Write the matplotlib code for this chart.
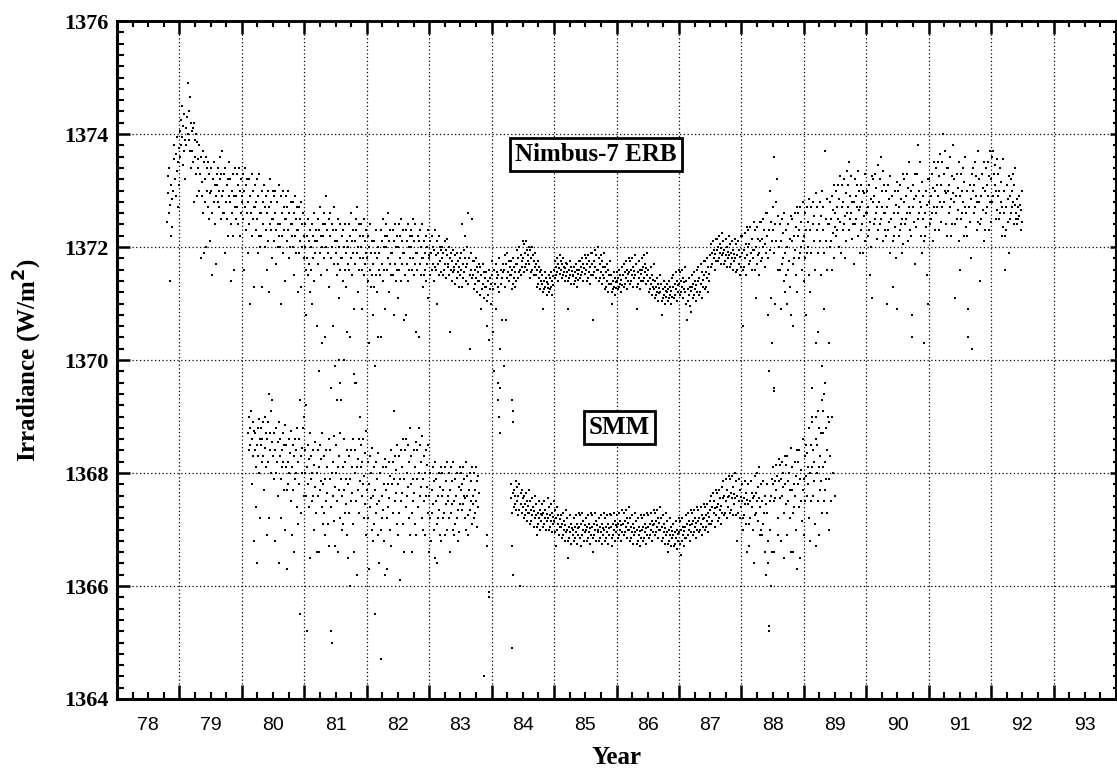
import numpy as np
import matplotlib
matplotlib.use("Agg")
import matplotlib.pyplot as plt

# ---------------- data ----------------
# Each row: (centre of a 0.1-year bin, daily irradiance readings in W/m^2 within that bin)
nimbus_bins = [
    (78.85, [1372.45, 1372.95, 1373.25, 1372.6, 1373.4, 1372.75, 1371.4, 1372.2, 1373.1, 1372.85, 1372.35, 1373.0]),
    (78.95, [1373.0, 1373.55, 1373.8, 1373.2, 1372.9, 1373.65, 1373.95, 1373.35, 1372.7, 1373.5, 1373.1, 1373.75]),
    (79.05, [1373.6, 1374.05, 1374.25, 1373.8, 1374.5, 1373.95, 1373.45, 1374.15, 1373.7, 1374.35, 1373.9, 1373.2]),
    (79.15, [1374.1, 1373.8, 1374.3, 1374.9, 1374.0, 1374.4, 1373.9, 1374.65, 1373.7, 1374.2, 1373.4, 1374.05]),
    (79.25, [1373.7, 1374.1, 1373.5, 1374.2, 1372.8, 1373.9, 1373.6, 1374.0, 1373.3, 1373.85, 1372.9, 1373.55]),
    (79.35, [1373.4, 1373.0, 1373.8, 1373.3, 1371.8, 1373.6, 1372.9, 1373.15, 1373.7, 1372.6, 1373.5, 1371.9]),
    (79.45, [1373.2, 1372.8, 1373.6, 1372.0, 1373.4, 1373.0, 1372.7, 1373.5, 1372.5, 1373.3, 1372.1, 1372.95]),
    (79.55, [1373.0, 1373.4, 1372.6, 1371.5, 1373.2, 1372.8, 1373.5, 1372.4, 1373.1, 1371.7, 1372.9, 1373.3]),
    (79.65, [1373.1, 1372.8, 1373.4, 1373.0, 1372.7, 1373.6, 1373.2, 1372.5, 1373.3, 1372.9, 1373.7, 1372.6]),
    (79.75, [1373.0, 1373.3, 1372.6, 1371.9, 1373.4, 1372.8, 1373.1, 1372.5, 1373.2, 1372.2, 1372.9, 1373.5]),
    (79.85, [1372.8, 1373.2, 1372.4, 1371.4, 1373.0, 1372.6, 1373.3, 1372.2, 1372.9, 1371.6, 1372.7, 1373.4]),
    (79.95, [1372.9, 1372.5, 1373.3, 1372.7, 1373.1, 1372.4, 1373.4, 1372.2, 1373.0, 1372.6, 1373.2, 1372.8]),
    (80.05, [1372.9, 1373.3, 1372.5, 1371.6, 1373.0, 1372.7, 1373.4, 1372.3, 1373.1, 1372.6, 1373.2, 1371.9]),
    (80.15, [1372.8, 1372.4, 1373.2, 1371.0, 1372.9, 1372.6, 1373.3, 1372.2, 1373.0, 1372.5, 1371.3, 1372.7]),
    (80.25, [1372.7, 1373.1, 1372.3, 1372.8, 1373.2, 1372.5, 1371.9, 1372.9, 1372.2, 1373.3, 1372.6, 1372.0]),
    (80.35, [1372.6, 1372.2, 1373.0, 1371.3, 1372.8, 1372.4, 1373.1, 1372.0, 1372.7, 1372.3, 1372.9, 1371.6]),
    (80.45, [1372.6, 1373.0, 1372.1, 1371.2, 1372.7, 1372.4, 1373.2, 1372.3, 1372.8, 1371.8, 1372.5, 1373.0]),
    (80.55, [1372.5, 1372.1, 1372.9, 1372.6, 1373.0, 1372.3, 1371.7, 1372.8, 1372.0, 1372.4, 1373.1, 1372.2]),
    (80.65, [1372.4, 1372.0, 1372.9, 1371.0, 1372.6, 1372.2, 1373.0, 1371.9, 1372.7, 1372.3, 1372.5, 1371.4]),
    (80.75, [1372.5, 1372.9, 1372.1, 1372.7, 1372.3, 1373.0, 1371.8, 1372.6, 1372.0, 1372.8, 1372.4, 1372.2]),
    (80.85, [1372.4, 1372.0, 1372.8, 1371.5, 1372.6, 1372.2, 1372.9, 1371.9, 1372.5, 1372.3, 1372.7, 1371.2]),
    (80.95, [1372.3, 1372.7, 1371.9, 1372.5, 1372.1, 1372.8, 1371.3, 1372.4, 1372.0, 1372.6, 1371.8, 1372.2]),
    (81.05, [1372.0, 1372.4, 1371.6, 1370.8, 1372.2, 1371.8, 1372.5, 1371.5, 1372.1, 1371.7, 1372.3, 1371.2]),
    (81.15, [1372.0, 1371.6, 1372.4, 1371.0, 1372.2, 1371.8, 1372.6, 1371.4, 1372.1, 1371.9, 1372.3, 1370.6]),
    (81.25, [1372.1, 1372.5, 1371.7, 1369.8, 1372.3, 1371.9, 1372.7, 1371.5, 1372.2, 1370.3, 1372.0, 1372.4]),
    (81.35, [1372.2, 1371.8, 1372.6, 1370.4, 1372.4, 1372.0, 1372.9, 1371.6, 1372.3, 1371.9, 1372.5, 1371.3]),
    (81.45, [1372.2, 1372.6, 1371.8, 1369.5, 1372.4, 1372.0, 1370.6, 1372.3, 1371.7, 1372.7, 1372.1, 1369.9]),
    (81.55, [1371.9, 1372.3, 1371.5, 1372.1, 1371.7, 1372.5, 1371.1, 1372.0, 1371.6, 1372.4, 1371.8, 1372.2]),
    (81.65, [1371.8, 1371.4, 1372.3, 1370.0, 1372.0, 1371.6, 1372.4, 1371.3, 1371.9, 1370.5, 1372.1, 1371.7]),
    (81.75, [1372.0, 1372.4, 1371.6, 1370.4, 1372.2, 1371.8, 1372.6, 1371.5, 1372.1, 1371.9, 1372.3, 1370.9]),
    (81.85, [1372.1, 1371.7, 1372.5, 1372.3, 1371.9, 1372.7, 1371.2, 1372.0, 1371.6, 1372.4, 1371.8, 1372.2]),
    (81.95, [1372.0, 1372.4, 1371.6, 1370.9, 1372.2, 1371.8, 1372.5, 1371.5, 1372.1, 1371.7, 1372.3, 1371.9]),
    (82.05, [1371.8, 1371.4, 1372.2, 1370.3, 1372.0, 1371.6, 1372.4, 1371.3, 1371.9, 1371.5, 1372.1, 1370.8]),
    (82.15, [1371.7, 1372.1, 1371.3, 1369.9, 1371.9, 1371.5, 1372.3, 1371.2, 1371.8, 1370.4, 1372.0, 1371.6]),
    (82.25, [1371.9, 1371.5, 1372.3, 1370.4, 1372.1, 1371.7, 1372.5, 1371.4, 1372.0, 1371.6, 1372.2, 1370.9]),
    (82.35, [1372.0, 1372.4, 1371.6, 1372.2, 1371.8, 1372.6, 1371.2, 1372.1, 1371.7, 1372.3, 1371.5, 1371.9]),
    (82.45, [1371.9, 1371.5, 1372.3, 1370.8, 1372.1, 1371.7, 1372.4, 1371.4, 1372.0, 1371.6, 1372.2, 1371.1]),
    (82.55, [1372.0, 1372.4, 1371.6, 1372.2, 1371.8, 1372.5, 1371.4, 1372.1, 1371.7, 1372.3, 1371.9, 1370.7]),
    (82.65, [1371.9, 1371.5, 1372.3, 1370.8, 1372.1, 1371.7, 1372.4, 1371.4, 1372.0, 1371.6, 1372.2, 1371.8]),
    (82.75, [1372.0, 1372.3, 1371.6, 1372.2, 1371.8, 1372.5, 1371.5, 1372.1, 1371.7, 1372.4, 1371.9, 1370.5]),
    (82.85, [1371.9, 1371.6, 1372.2, 1370.4, 1372.1, 1371.7, 1372.3, 1371.5, 1372.0, 1371.8, 1372.4, 1371.3]),
    (82.95, [1371.8, 1372.1, 1371.5, 1371.9, 1371.6, 1372.2, 1371.4, 1372.0, 1371.7, 1372.3, 1371.1, 1371.85]),
    (83.05, [1371.8, 1372.1, 1371.5, 1371.9, 1371.6, 1372.2, 1371.7, 1372.0, 1371.4, 1371.95, 1371.65, 1372.3]),
    (83.15, [1371.85, 1371.6, 1372.1, 1371.0, 1371.9, 1371.7, 1372.2, 1371.5, 1372.0, 1371.75, 1371.95, 1371.55]),
    (83.25, [1371.8, 1372.0, 1371.5, 1371.9, 1371.6, 1372.1, 1371.7, 1371.95, 1371.45, 1371.85, 1372.15, 1371.65]),
    (83.35, [1371.7, 1371.5, 1372.0, 1370.5, 1371.8, 1371.6, 1371.9, 1371.4, 1371.75, 1371.55, 1371.95, 1371.65]),
    (83.45, [1371.6, 1371.85, 1371.35, 1371.7, 1371.45, 1371.9, 1371.55, 1371.75, 1371.3, 1371.65, 1371.5, 1371.8]),
    (83.55, [1371.6, 1371.9, 1371.3, 1372.4, 1371.7, 1371.45, 1371.95, 1371.55, 1371.8, 1372.2, 1371.4, 1371.65]),
    (83.65, [1371.7, 1372.0, 1371.35, 1372.6, 1371.8, 1370.2, 1371.5, 1371.9, 1371.6, 1372.5, 1371.45, 1371.75]),
    (83.75, [1371.5, 1371.75, 1371.25, 1371.6, 1371.35, 1371.8, 1371.45, 1371.65, 1371.2, 1371.55, 1371.4, 1371.7]),
    (83.85, [1371.4, 1371.65, 1371.15, 1370.9, 1371.5, 1371.25, 1371.7, 1371.35, 1371.55, 1371.1, 1371.45, 1371.3]),
    (83.95, [1371.3, 1371.55, 1371.05, 1370.6, 1371.4, 1371.15, 1371.6, 1370.35, 1371.25, 1371.45, 1371.0, 1371.35]),
    (84.05, [1371.5, 1371.75, 1371.25, 1370.5, 1369.8, 1371.6, 1371.35, 1371.7, 1370.9, 1371.45, 1371.55, 1371.3]),
    (84.15, [1371.5, 1371.8, 1371.2, 1370.2, 1369.5, 1371.6, 1371.35, 1370.7, 1371.45, 1371.7, 1371.55, 1369.9]),
    (84.25, [1371.6, 1371.85, 1371.3, 1370.7, 1371.7, 1371.45, 1371.9, 1371.55, 1371.75, 1371.4, 1371.65, 1371.5]),
    (84.35, [1371.5, 1371.75, 1371.25, 1371.6, 1371.35, 1371.8, 1371.45, 1371.65, 1371.3, 1371.55, 1371.4, 1371.7]),
    (84.45, [1371.7, 1371.95, 1371.45, 1371.8, 1371.55, 1372.0, 1371.6, 1371.85, 1371.5, 1371.75, 1371.65, 1372.1]),
    (84.55, [1371.8, 1372.05, 1371.55, 1371.9, 1371.65, 1372.1, 1371.7, 1371.95, 1371.6, 1371.85, 1371.75, 1372.0]),
    (84.65, [1371.7, 1371.95, 1371.45, 1371.8, 1371.55, 1372.0, 1371.6, 1371.85, 1371.5, 1371.75, 1371.65, 1371.9]),
    (84.75, [1371.5, 1371.7, 1371.3, 1371.6, 1371.35, 1371.75, 1371.45, 1371.65, 1371.25, 1371.55, 1371.4, 1371.6]),
    (84.85, [1371.35, 1371.5, 1371.2, 1370.9, 1371.4, 1371.25, 1371.55, 1371.3, 1371.45, 1371.15, 1371.38, 1371.28]),
    (84.95, [1371.35, 1371.5, 1371.2, 1371.45, 1371.25, 1371.55, 1371.3, 1371.4, 1371.15, 1371.48, 1371.33, 1371.6]),
    (85.05, [1371.6, 1371.75, 1371.45, 1371.65, 1371.5, 1371.8, 1371.55, 1371.7, 1371.4, 1371.62, 1371.52, 1371.85]),
    (85.15, [1371.6, 1371.75, 1371.45, 1371.7, 1371.5, 1371.8, 1371.55, 1371.65, 1371.4, 1371.62, 1371.48, 1371.72]),
    (85.25, [1371.55, 1371.7, 1371.4, 1370.9, 1371.6, 1371.45, 1371.75, 1371.5, 1371.65, 1371.35, 1371.58, 1371.48]),
    (85.35, [1371.5, 1371.65, 1371.35, 1371.55, 1371.4, 1371.7, 1371.45, 1371.6, 1371.3, 1371.52, 1371.42, 1371.75]),
    (85.45, [1371.6, 1371.75, 1371.45, 1371.65, 1371.5, 1371.8, 1371.55, 1371.7, 1371.4, 1371.62, 1371.52, 1371.85]),
    (85.55, [1371.6, 1371.8, 1371.4, 1371.7, 1371.45, 1371.85, 1371.55, 1371.75, 1371.35, 1371.65, 1371.5, 1371.9]),
    (85.65, [1371.7, 1371.9, 1371.5, 1370.7, 1371.75, 1371.55, 1371.95, 1371.65, 1371.85, 1371.45, 1371.6, 1372.0]),
    (85.75, [1371.6, 1371.8, 1371.4, 1371.7, 1371.45, 1371.85, 1371.55, 1371.75, 1371.35, 1371.65, 1371.5, 1371.9]),
    (85.85, [1371.45, 1371.65, 1371.25, 1371.55, 1371.3, 1371.7, 1371.4, 1371.6, 1371.2, 1371.5, 1371.35, 1371.75]),
    (85.95, [1371.35, 1371.5, 1371.2, 1371.0, 1371.4, 1371.25, 1371.55, 1371.3, 1371.45, 1371.15, 1371.38, 1371.28]),
    (86.05, [1371.4, 1371.55, 1371.25, 1371.45, 1371.3, 1371.6, 1371.35, 1371.5, 1371.2, 1371.42, 1371.32, 1371.65]),
    (86.15, [1371.5, 1371.7, 1371.3, 1371.55, 1371.35, 1371.75, 1371.45, 1371.6, 1371.25, 1371.52, 1371.4, 1371.8]),
    (86.25, [1371.55, 1371.75, 1371.35, 1371.6, 1371.4, 1371.8, 1371.5, 1371.65, 1371.3, 1371.58, 1371.45, 1371.85]),
    (86.35, [1371.5, 1371.7, 1371.3, 1370.9, 1371.55, 1371.35, 1371.75, 1371.45, 1371.6, 1371.25, 1371.52, 1371.4]),
    (86.45, [1371.6, 1371.8, 1371.4, 1371.65, 1371.45, 1371.85, 1371.55, 1371.7, 1371.35, 1371.62, 1371.5, 1371.9]),
    (86.55, [1371.4, 1371.6, 1371.2, 1371.45, 1371.25, 1371.65, 1371.35, 1371.5, 1371.15, 1371.42, 1371.3, 1371.7]),
    (86.65, [1371.25, 1371.4, 1371.1, 1371.3, 1371.15, 1371.45, 1371.2, 1371.35, 1371.05, 1371.28, 1371.18, 1371.5]),
    (86.75, [1371.2, 1371.35, 1371.05, 1370.8, 1371.25, 1371.1, 1371.4, 1371.15, 1371.3, 1371.0, 1371.22, 1371.12]),
    (86.85, [1371.2, 1371.35, 1371.05, 1371.25, 1371.1, 1371.4, 1371.15, 1371.3, 1371.0, 1371.22, 1371.12, 1371.45]),
    (86.95, [1371.3, 1371.5, 1371.1, 1371.35, 1371.15, 1371.55, 1371.25, 1371.4, 1371.05, 1371.32, 1371.2, 1371.6]),
    (87.05, [1371.35, 1371.55, 1371.15, 1371.4, 1371.2, 1371.6, 1371.3, 1371.45, 1371.1, 1371.38, 1371.25, 1371.65]),
    (87.15, [1371.2, 1371.4, 1371.0, 1370.7, 1371.25, 1371.05, 1371.45, 1371.15, 1371.3, 1370.95, 1371.22, 1370.85]),
    (87.25, [1371.3, 1371.5, 1371.1, 1371.35, 1371.15, 1371.55, 1371.25, 1371.4, 1371.05, 1371.32, 1371.2, 1371.6]),
    (87.35, [1371.4, 1371.65, 1371.15, 1371.45, 1371.2, 1371.7, 1371.35, 1371.55, 1371.1, 1371.42, 1371.3, 1371.75]),
    (87.45, [1371.5, 1371.75, 1371.25, 1371.55, 1371.3, 1371.8, 1371.45, 1371.65, 1371.2, 1371.52, 1371.4, 1371.85]),
    (87.55, [1371.85, 1372.05, 1371.65, 1371.9, 1371.7, 1372.1, 1371.8, 1371.95, 1371.6, 1371.88, 1371.75, 1372.15]),
    (87.65, [1371.95, 1372.15, 1371.75, 1372.0, 1371.8, 1372.2, 1371.9, 1372.05, 1371.7, 1371.98, 1371.85, 1372.25]),
    (87.75, [1371.9, 1372.1, 1371.7, 1371.95, 1371.75, 1372.15, 1371.85, 1372.0, 1371.65, 1371.92, 1371.8, 1372.2]),
    (87.85, [1371.85, 1372.05, 1371.65, 1371.9, 1371.7, 1372.1, 1371.8, 1371.95, 1371.6, 1371.88, 1371.75, 1372.15]),
    (87.95, [1371.8, 1372.05, 1371.55, 1371.85, 1371.6, 1372.1, 1371.7, 1371.95, 1371.5, 1371.82, 1371.65, 1372.2]),
    (88.05, [1371.9, 1372.2, 1371.6, 1370.6, 1371.95, 1371.65, 1372.25, 1371.8, 1372.05, 1371.5, 1371.85, 1372.35]),
    (88.15, [1372.0, 1372.3, 1371.7, 1372.05, 1371.75, 1372.35, 1371.9, 1372.15, 1371.6, 1371.95, 1371.8, 1372.45]),
    (88.25, [1371.95, 1372.3, 1371.6, 1371.1, 1372.0, 1371.7, 1372.35, 1371.85, 1372.15, 1371.5, 1371.9, 1372.45]),
    (88.35, [1372.1, 1372.45, 1371.75, 1372.15, 1371.8, 1372.5, 1372.0, 1372.3, 1371.65, 1372.05, 1371.9, 1372.6]),
    (88.45, [1372.2, 1372.6, 1371.8, 1370.8, 1369.8, 1372.3, 1373.0, 1371.95, 1372.45, 1371.1, 1372.1, 1370.3]),
    (88.55, [1372.3, 1372.7, 1371.9, 1373.6, 1371.0, 1372.4, 1372.8, 1372.1, 1373.2, 1371.6, 1372.55, 1372.0]),
    (88.65, [1372.0, 1372.4, 1371.6, 1370.9, 1372.1, 1371.7, 1372.5, 1371.8, 1372.25, 1371.4, 1372.6, 1371.2]),
    (88.75, [1371.9, 1372.3, 1371.5, 1371.0, 1372.0, 1371.6, 1372.4, 1371.75, 1372.15, 1371.3, 1372.55, 1370.8]),
    (88.85, [1372.1, 1372.5, 1371.7, 1370.6, 1372.2, 1371.8, 1372.6, 1371.95, 1372.35, 1371.5, 1372.7, 1371.2]),
    (88.95, [1372.2, 1372.6, 1371.8, 1372.3, 1371.9, 1372.7, 1372.0, 1372.45, 1371.6, 1372.1, 1372.8, 1371.4]),
    (89.05, [1372.2, 1372.6, 1371.8, 1370.8, 1372.3, 1371.9, 1372.7, 1372.0, 1372.45, 1371.5, 1372.85, 1371.2]),
    (89.15, [1372.3, 1372.7, 1371.9, 1369.5, 1369.0, 1372.4, 1372.8, 1372.1, 1372.55, 1371.6, 1370.3, 1372.95]),
    (89.25, [1372.3, 1372.7, 1371.9, 1370.5, 1368.8, 1372.4, 1372.8, 1372.1, 1372.55, 1371.5, 1369.9, 1373.0]),
    (89.35, [1372.3, 1372.7, 1371.9, 1370.9, 1369.6, 1373.7, 1372.5, 1372.1, 1372.85, 1371.6, 1372.4, 1370.3]),
    (89.45, [1372.4, 1372.8, 1372.0, 1372.5, 1372.1, 1372.9, 1371.6, 1372.25, 1372.65, 1371.8, 1373.1, 1372.35]),
    (89.55, [1372.6, 1373.0, 1372.2, 1372.7, 1372.3, 1373.1, 1372.5, 1372.85, 1372.0, 1372.45, 1373.25, 1371.9]),
    (89.65, [1372.7, 1373.1, 1372.3, 1372.8, 1372.4, 1373.2, 1371.8, 1372.55, 1372.95, 1372.1, 1373.35, 1372.6]),
    (89.75, [1372.7, 1373.1, 1372.3, 1373.5, 1372.5, 1372.9, 1372.6, 1373.25, 1372.15, 1372.8, 1372.4, 1371.7]),
    (89.85, [1372.8, 1373.2, 1372.4, 1372.9, 1372.5, 1373.1, 1372.7, 1373.35, 1372.2, 1372.65, 1373.0, 1371.9]),
    (89.95, [1372.7, 1373.1, 1372.3, 1372.8, 1372.4, 1373.0, 1371.9, 1372.55, 1372.95, 1372.1, 1373.3, 1372.6]),
    (90.05, [1372.6, 1373.0, 1372.2, 1372.7, 1372.3, 1373.1, 1371.5, 1372.45, 1372.85, 1372.0, 1373.25, 1371.1]),
    (90.15, [1372.8, 1373.2, 1372.4, 1372.9, 1372.5, 1373.3, 1372.6, 1373.05, 1372.15, 1372.7, 1373.45, 1372.3]),
    (90.25, [1372.8, 1373.2, 1372.4, 1373.6, 1372.5, 1373.0, 1372.7, 1373.35, 1372.1, 1372.6, 1373.1, 1372.3]),
    (90.35, [1372.6, 1373.0, 1372.2, 1371.0, 1372.7, 1372.3, 1373.1, 1372.45, 1372.85, 1371.9, 1373.25, 1372.5]),
    (90.45, [1372.5, 1372.9, 1372.1, 1371.3, 1372.6, 1372.2, 1373.0, 1372.35, 1372.75, 1371.8, 1373.15, 1370.9]),
    (90.55, [1372.6, 1373.0, 1372.2, 1372.7, 1372.3, 1373.1, 1372.4, 1372.85, 1371.9, 1372.5, 1373.3, 1372.05]),
    (90.65, [1372.8, 1373.2, 1372.4, 1372.9, 1372.5, 1373.3, 1372.6, 1373.05, 1372.1, 1372.7, 1373.5, 1372.3]),
    (90.75, [1372.6, 1373.0, 1372.2, 1370.4, 1370.8, 1372.7, 1373.1, 1372.45, 1372.85, 1371.7, 1373.3, 1372.35]),
    (90.85, [1372.9, 1373.3, 1372.5, 1373.8, 1372.6, 1373.0, 1372.8, 1373.5, 1372.2, 1372.7, 1373.15, 1371.9]),
    (90.95, [1372.5, 1372.9, 1372.1, 1370.3, 1372.6, 1372.2, 1373.0, 1372.35, 1372.75, 1371.5, 1373.2, 1371.0]),
    (91.05, [1372.8, 1373.2, 1372.4, 1372.9, 1372.5, 1373.3, 1372.6, 1373.05, 1372.1, 1372.7, 1373.5, 1372.3]),
    (91.15, [1373.0, 1373.4, 1372.6, 1373.1, 1372.7, 1373.5, 1372.9, 1373.25, 1372.3, 1372.8, 1373.65, 1372.45]),
    (91.25, [1373.1, 1373.5, 1372.7, 1374.0, 1372.8, 1373.3, 1373.0, 1373.7, 1372.4, 1372.95, 1373.4, 1372.2]),
    (91.35, [1373.0, 1373.4, 1372.6, 1373.1, 1372.7, 1373.6, 1372.2, 1372.85, 1373.25, 1372.4, 1373.8, 1372.95]),
    (91.45, [1372.8, 1373.2, 1372.4, 1371.1, 1372.9, 1372.5, 1373.3, 1372.65, 1373.05, 1372.1, 1373.5, 1371.6]),
    (91.55, [1372.9, 1373.3, 1372.5, 1373.0, 1372.6, 1373.4, 1372.8, 1373.15, 1372.2, 1372.7, 1373.6, 1372.35]),
    (91.65, [1372.6, 1373.0, 1372.2, 1370.9, 1370.4, 1372.7, 1373.1, 1372.45, 1372.85, 1371.8, 1373.3, 1370.2]),
    (91.75, [1373.0, 1373.4, 1372.6, 1373.1, 1372.7, 1373.5, 1372.9, 1373.25, 1372.3, 1372.8, 1373.7, 1372.45]),
    (91.85, [1372.8, 1373.2, 1372.4, 1371.4, 1372.9, 1372.5, 1373.3, 1372.65, 1373.05, 1372.1, 1373.5, 1372.3]),
    (91.95, [1373.0, 1373.4, 1372.6, 1373.1, 1372.7, 1373.5, 1372.9, 1373.25, 1372.3, 1372.8, 1373.7, 1372.45]),
    (92.05, [1373.2, 1373.6, 1372.8, 1373.7, 1372.9, 1373.3, 1373.1, 1373.45, 1372.5, 1373.0, 1372.65, 1373.55]),
    (92.15, [1372.9, 1373.3, 1372.5, 1373.0, 1372.6, 1373.4, 1372.8, 1373.15, 1372.2, 1372.7, 1373.55, 1372.35]),
    (92.25, [1372.6, 1373.0, 1372.2, 1371.6, 1372.7, 1372.3, 1373.1, 1372.45, 1372.85, 1371.9, 1373.25, 1372.5]),
    (92.35, [1372.9, 1373.2, 1372.6, 1373.0, 1372.7, 1373.3, 1372.8, 1373.1, 1372.4, 1372.75, 1373.4, 1372.5]),
    (92.45, [1372.6, 1372.85, 1372.4, 1372.7, 1372.5, 1372.9, 1372.55, 1372.75, 1372.3, 1372.65, 1373.0, 1372.45]),
]

# isolated Nimbus-7 low excursions (year, W/m^2)
nimbus_extra_years = [81.56, 81.57, 81.58, 81.80, 81.81, 88.52, 88.53, 89.20, 89.30, 89.40]
nimbus_extra_vals = [1370.0, 1369.6, 1369.3, 1369.75, 1369.6, 1369.5, 1369.45, 1368.6, 1369.1, 1368.9]

smm_bins = [
    (80.15, [1368.7, 1369.0, 1368.4, 1368.8, 1368.5, 1369.1, 1367.8, 1368.6, 1368.9, 1368.3, 1366.8, 1368.75]),
    (80.25, [1368.4, 1368.7, 1368.1, 1367.4, 1366.4, 1368.5, 1368.8, 1368.3, 1368.95, 1368.0, 1368.6, 1367.2]),
    (80.35, [1368.5, 1368.8, 1368.2, 1368.6, 1368.3, 1368.9, 1367.7, 1368.45, 1369.0, 1368.1, 1368.7, 1366.9]),
    (80.45, [1368.6, 1368.9, 1368.2, 1369.4, 1367.2, 1368.7, 1368.4, 1369.1, 1368.0, 1368.55, 1369.3, 1368.3]),
    (80.55, [1368.3, 1368.7, 1367.9, 1366.8, 1368.4, 1368.0, 1368.8, 1368.2, 1368.55, 1367.6, 1368.9, 1366.4]),
    (80.65, [1368.3, 1368.6, 1367.9, 1367.2, 1368.4, 1368.1, 1368.7, 1368.2, 1368.5, 1367.7, 1368.85, 1367.0]),
    (80.75, [1368.1, 1368.5, 1367.7, 1366.3, 1368.2, 1367.8, 1368.6, 1368.0, 1368.35, 1367.5, 1368.75, 1366.9]),
    (80.85, [1368.1, 1368.5, 1367.7, 1366.6, 1368.3, 1367.9, 1368.6, 1368.0, 1368.4, 1367.4, 1368.8, 1367.1]),
    (80.95, [1368.2, 1368.6, 1367.8, 1369.3, 1365.5, 1368.3, 1367.3, 1368.45, 1368.0, 1368.8, 1367.6, 1369.0]),
    (81.05, [1368.0, 1368.4, 1367.6, 1369.2, 1365.2, 1368.1, 1368.5, 1367.8, 1368.25, 1367.4, 1368.7, 1366.5]),
    (81.15, [1367.9, 1368.3, 1367.5, 1368.0, 1367.6, 1368.4, 1367.0, 1368.15, 1367.75, 1368.55, 1367.3, 1366.6]),
    (81.25, [1368.0, 1368.4, 1367.6, 1366.6, 1368.1, 1367.7, 1368.5, 1367.85, 1368.25, 1367.4, 1368.7, 1367.1]),
    (81.35, [1367.8, 1368.3, 1367.3, 1366.9, 1367.9, 1367.5, 1368.4, 1367.65, 1368.1, 1367.1, 1368.6, 1366.7]),
    (81.45, [1367.9, 1368.4, 1367.4, 1365.2, 1365.0, 1368.0, 1367.6, 1368.2, 1367.15, 1368.65, 1366.7, 1367.75]),
    (81.55, [1368.0, 1368.5, 1367.5, 1369.3, 1366.6, 1368.1, 1367.7, 1368.3, 1367.2, 1368.7, 1367.9, 1367.0]),
    (81.65, [1367.6, 1368.1, 1367.1, 1368.6, 1367.7, 1367.3, 1368.2, 1367.45, 1367.9, 1366.9, 1368.4, 1366.5]),
    (81.75, [1367.8, 1368.3, 1367.3, 1366.0, 1367.9, 1367.5, 1368.4, 1367.65, 1368.1, 1367.1, 1368.6, 1366.6]),
    (81.85, [1368.0, 1368.4, 1367.5, 1369.6, 1366.2, 1368.1, 1367.7, 1368.25, 1367.3, 1368.6, 1367.85, 1369.0]),
    (81.95, [1368.1, 1368.5, 1367.6, 1368.2, 1367.8, 1368.6, 1367.2, 1367.95, 1368.35, 1367.45, 1368.75, 1366.9]),
    (82.05, [1367.7, 1368.2, 1367.2, 1366.3, 1367.8, 1367.4, 1368.3, 1367.55, 1368.0, 1367.0, 1368.45, 1366.8]),
    (82.15, [1367.6, 1368.1, 1367.1, 1365.5, 1367.7, 1367.3, 1368.2, 1367.45, 1367.9, 1366.9, 1368.35, 1366.4]),
    (82.25, [1367.5, 1368.0, 1367.0, 1364.7, 1367.6, 1367.2, 1368.1, 1367.35, 1367.8, 1366.8, 1368.25, 1366.2]),
    (82.35, [1367.7, 1368.1, 1367.2, 1366.3, 1367.8, 1367.4, 1368.2, 1367.55, 1367.95, 1367.0, 1368.4, 1366.7]),
    (82.45, [1367.8, 1368.2, 1367.3, 1369.1, 1367.9, 1367.5, 1368.3, 1367.65, 1368.05, 1367.1, 1368.5, 1366.9]),
    (82.55, [1367.8, 1368.3, 1367.3, 1366.1, 1367.9, 1367.5, 1368.4, 1367.65, 1368.1, 1367.1, 1368.6, 1366.6]),
    (82.65, [1367.9, 1368.4, 1367.4, 1368.6, 1368.0, 1367.6, 1368.5, 1367.75, 1368.2, 1367.2, 1368.8, 1366.9]),
    (82.75, [1367.8, 1368.3, 1367.3, 1366.6, 1367.9, 1367.5, 1368.4, 1367.65, 1368.1, 1367.1, 1368.55, 1366.9]),
    (82.85, [1367.9, 1368.4, 1367.4, 1368.8, 1368.0, 1367.6, 1368.5, 1367.75, 1368.2, 1367.2, 1368.65, 1367.0]),
    (82.95, [1367.9, 1368.3, 1367.5, 1366.9, 1368.0, 1367.6, 1368.4, 1367.75, 1368.15, 1367.3, 1368.5, 1366.6]),
    (83.05, [1367.6, 1368.0, 1367.2, 1366.8, 1367.7, 1367.3, 1368.1, 1367.45, 1367.85, 1367.0, 1368.2, 1366.5]),
    (83.15, [1367.5, 1367.9, 1367.1, 1366.4, 1367.6, 1367.2, 1368.0, 1367.35, 1367.75, 1366.9, 1368.1, 1366.8]),
    (83.25, [1367.6, 1368.0, 1367.2, 1367.7, 1367.3, 1368.1, 1366.9, 1367.45, 1367.85, 1367.0, 1368.2, 1367.5]),
    (83.35, [1367.6, 1368.0, 1367.2, 1366.6, 1367.7, 1367.3, 1368.1, 1367.45, 1367.85, 1367.0, 1368.2, 1366.9]),
    (83.45, [1367.5, 1367.9, 1367.1, 1367.6, 1367.2, 1368.0, 1366.8, 1367.35, 1367.75, 1366.95, 1368.1, 1367.45]),
    (83.55, [1367.7, 1368.0, 1367.35, 1367.8, 1367.45, 1368.1, 1367.6, 1367.9, 1367.2, 1367.55, 1368.2, 1367.0]),
    (83.65, [1367.6, 1367.95, 1367.25, 1366.9, 1367.7, 1367.35, 1368.0, 1367.5, 1367.85, 1367.1, 1368.1, 1367.45]),
    (83.75, [1367.6, 1368.0, 1367.2, 1367.7, 1367.3, 1368.1, 1367.5, 1367.85, 1367.05, 1367.4, 1367.95, 1367.65]),
    (84.35, [1367.55, 1367.8, 1367.3, 1366.7, 1366.2, 1367.65, 1367.4, 1367.7, 1367.45, 1367.6, 1367.85, 1367.35]),
    (84.45, [1367.5, 1367.75, 1367.25, 1367.6, 1367.35, 1367.8, 1366.0, 1367.45, 1367.65, 1367.3, 1367.7, 1367.55]),
    (84.55, [1367.4, 1367.6, 1367.2, 1367.45, 1367.25, 1367.65, 1367.35, 1367.5, 1367.15, 1367.42, 1367.3, 1367.7]),
    (84.65, [1367.3, 1367.5, 1367.1, 1367.35, 1367.15, 1367.55, 1367.25, 1367.4, 1367.05, 1367.32, 1367.2, 1367.6]),
    (84.75, [1367.25, 1367.45, 1367.05, 1366.9, 1367.3, 1367.1, 1367.5, 1367.2, 1367.35, 1367.0, 1367.28, 1367.15]),
    (84.85, [1367.25, 1367.45, 1367.05, 1367.3, 1367.1, 1367.5, 1367.2, 1367.35, 1367.0, 1367.28, 1367.15, 1367.55]),
    (84.95, [1367.2, 1367.4, 1367.0, 1367.25, 1367.05, 1367.45, 1367.15, 1367.3, 1366.95, 1367.22, 1367.1, 1367.5]),
    (85.05, [1367.15, 1367.35, 1366.95, 1366.7, 1367.2, 1367.0, 1367.4, 1367.1, 1367.25, 1366.9, 1367.18, 1367.05]),
    (85.15, [1367.05, 1367.25, 1366.85, 1367.1, 1366.9, 1367.3, 1367.0, 1367.15, 1366.8, 1367.08, 1366.95, 1367.35]),
    (85.25, [1367.0, 1367.2, 1366.8, 1366.5, 1367.05, 1366.85, 1367.25, 1366.95, 1367.1, 1366.75, 1367.02, 1366.9]),
    (85.35, [1367.0, 1367.2, 1366.8, 1367.05, 1366.85, 1367.25, 1366.95, 1367.1, 1366.75, 1367.02, 1366.9, 1367.3]),
    (85.45, [1367.05, 1367.25, 1366.85, 1366.7, 1367.1, 1366.9, 1367.3, 1367.0, 1367.15, 1366.8, 1367.08, 1366.95]),
    (85.55, [1367.0, 1367.2, 1366.8, 1367.05, 1366.85, 1367.25, 1366.95, 1367.1, 1366.75, 1367.02, 1366.9, 1367.3]),
    (85.65, [1367.05, 1367.25, 1366.85, 1366.6, 1367.1, 1366.9, 1367.3, 1367.0, 1367.15, 1366.8, 1367.08, 1366.95]),
    (85.75, [1367.0, 1367.2, 1366.8, 1367.05, 1366.85, 1367.25, 1366.95, 1367.1, 1366.75, 1367.02, 1366.9, 1367.3]),
    (85.85, [1367.0, 1367.2, 1366.8, 1367.05, 1366.85, 1367.25, 1366.95, 1367.1, 1366.75, 1367.02, 1366.9, 1367.28]),
    (85.95, [1367.05, 1367.25, 1366.85, 1366.7, 1367.1, 1366.9, 1367.3, 1367.0, 1367.15, 1366.8, 1367.08, 1366.95]),
    (86.05, [1367.05, 1367.25, 1366.85, 1367.1, 1366.9, 1367.3, 1367.0, 1367.15, 1366.8, 1367.08, 1366.95, 1367.35]),
    (86.15, [1367.1, 1367.3, 1366.9, 1367.15, 1366.95, 1367.35, 1367.05, 1367.2, 1366.85, 1367.12, 1367.0, 1367.4]),
    (86.25, [1367.0, 1367.2, 1366.8, 1367.05, 1366.85, 1367.25, 1366.95, 1367.1, 1366.75, 1367.02, 1366.9, 1367.3]),
    (86.35, [1366.95, 1367.15, 1366.75, 1367.0, 1366.8, 1367.2, 1366.9, 1367.05, 1366.7, 1366.98, 1366.85, 1367.25]),
    (86.45, [1367.0, 1367.2, 1366.8, 1367.05, 1366.85, 1367.25, 1366.95, 1367.1, 1366.75, 1367.02, 1366.9, 1367.3]),
    (86.55, [1367.05, 1367.25, 1366.85, 1367.1, 1366.9, 1367.3, 1367.0, 1367.15, 1366.8, 1367.08, 1366.95, 1367.35]),
    (86.65, [1367.1, 1367.3, 1366.9, 1367.15, 1366.95, 1367.35, 1367.05, 1367.2, 1366.85, 1367.12, 1367.0, 1367.4]),
    (86.75, [1367.0, 1367.2, 1366.8, 1367.05, 1366.85, 1367.25, 1366.95, 1367.1, 1366.75, 1367.02, 1366.9, 1367.3]),
    (86.85, [1366.95, 1367.15, 1366.75, 1366.6, 1367.0, 1366.8, 1367.2, 1366.9, 1367.05, 1366.7, 1366.98, 1366.85]),
    (86.95, [1366.9, 1367.1, 1366.7, 1366.95, 1366.75, 1367.15, 1366.85, 1367.0, 1366.65, 1366.92, 1366.8, 1367.2]),
    (87.05, [1366.95, 1367.15, 1366.75, 1366.55, 1367.0, 1366.8, 1367.2, 1366.9, 1367.05, 1366.7, 1366.98, 1366.85]),
    (87.15, [1367.05, 1367.25, 1366.85, 1367.1, 1366.9, 1367.3, 1367.0, 1367.15, 1366.8, 1367.08, 1366.95, 1367.35]),
    (87.25, [1367.1, 1367.3, 1366.9, 1367.15, 1366.95, 1367.35, 1367.05, 1367.2, 1366.85, 1367.12, 1367.0, 1367.4]),
    (87.35, [1367.15, 1367.35, 1366.95, 1367.2, 1367.0, 1367.4, 1367.1, 1367.25, 1366.9, 1367.18, 1367.05, 1367.45]),
    (87.45, [1367.2, 1367.4, 1367.0, 1367.25, 1367.05, 1367.45, 1367.15, 1367.3, 1366.95, 1367.22, 1367.1, 1367.5]),
    (87.55, [1367.35, 1367.6, 1367.1, 1367.4, 1367.15, 1367.65, 1367.3, 1367.5, 1367.05, 1367.38, 1367.25, 1367.7]),
    (87.65, [1367.4, 1367.65, 1367.15, 1367.45, 1367.2, 1367.7, 1367.35, 1367.55, 1367.1, 1367.42, 1367.3, 1367.75]),
    (87.75, [1367.55, 1367.85, 1367.25, 1367.6, 1367.3, 1367.9, 1367.5, 1367.7, 1367.2, 1367.58, 1367.4, 1367.95]),
    (87.85, [1367.6, 1367.9, 1367.3, 1367.65, 1367.35, 1367.95, 1367.55, 1367.75, 1367.25, 1367.62, 1367.45, 1368.0]),
    (87.95, [1367.55, 1367.85, 1367.25, 1366.8, 1367.6, 1367.3, 1367.9, 1367.5, 1367.7, 1367.2, 1367.58, 1367.4]),
    (88.05, [1367.5, 1367.8, 1367.2, 1367.0, 1367.55, 1367.25, 1367.85, 1367.45, 1367.65, 1367.1, 1367.52, 1366.6]),
    (88.15, [1367.45, 1367.8, 1367.1, 1366.7, 1367.5, 1367.2, 1367.85, 1367.4, 1367.65, 1367.0, 1367.55, 1366.4]),
    (88.25, [1367.6, 1367.95, 1367.25, 1367.65, 1367.3, 1368.0, 1367.5, 1367.75, 1367.15, 1367.55, 1368.1, 1366.9]),
    (88.35, [1367.4, 1367.8, 1367.0, 1366.9, 1367.5, 1367.1, 1367.85, 1367.3, 1367.6, 1366.6, 1367.45, 1366.2]),
    (88.45, [1367.3, 1367.8, 1366.8, 1366.4, 1365.3, 1365.2, 1367.5, 1367.0, 1367.6, 1366.0, 1366.6, 1367.9]),
    (88.55, [1367.8, 1368.1, 1367.5, 1366.6, 1367.85, 1367.55, 1368.15, 1367.7, 1367.95, 1367.2, 1366.9, 1368.25]),
    (88.65, [1367.85, 1368.15, 1367.55, 1366.8, 1367.9, 1367.6, 1368.2, 1367.75, 1368.0, 1367.3, 1366.5, 1368.3]),
    (88.75, [1367.8, 1368.15, 1367.45, 1368.3, 1366.9, 1367.85, 1367.5, 1368.0, 1367.2, 1367.7, 1368.45, 1366.6]),
    (88.85, [1367.7, 1368.1, 1367.3, 1366.6, 1367.8, 1367.4, 1368.2, 1367.6, 1367.95, 1367.0, 1368.4, 1366.3]),
    (88.95, [1367.8, 1368.2, 1367.4, 1368.4, 1366.5, 1367.9, 1367.5, 1368.05, 1367.15, 1367.7, 1368.6, 1366.9]),
    (89.05, [1367.9, 1368.3, 1367.5, 1368.5, 1367.95, 1367.6, 1368.35, 1367.8, 1368.1, 1367.2, 1368.8, 1366.8]),
    (89.15, [1368.0, 1368.5, 1367.5, 1368.9, 1368.1, 1367.6, 1368.4, 1367.85, 1368.2, 1367.1, 1369.0, 1366.7]),
    (89.25, [1368.0, 1368.5, 1367.5, 1369.1, 1366.9, 1368.1, 1367.7, 1368.3, 1367.85, 1368.7, 1367.3, 1369.3]),
    (89.35, [1368.1, 1368.7, 1367.5, 1369.4, 1368.2, 1367.7, 1368.8, 1367.9, 1368.4, 1367.3, 1369.0, 1367.0]),
    (89.45, [1367.9, 1368.3, 1367.5, 1369.0, 1368.0, 1367.6]),
]

# isolated SMM readings around the 1984 repair gap (year, W/m^2)
smm_extra_years = [83.88, 83.92, 83.93, 83.95, 83.96, 84.10, 84.11, 84.12, 84.13, 84.33, 84.34, 84.34, 84.33]
smm_extra_vals = [1364.4, 1366.9, 1366.7, 1365.8, 1365.9, 1369.6, 1369.3, 1369.0, 1368.7, 1369.3, 1369.1, 1368.9, 1364.9]

bin_width = 0.1
year_labels = [str(y) for y in range(78, 94)]
label_nimbus = "Nimbus-7 ERB"
label_smm = "SMM"

# ---------------- helpers ----------------
def expand(bins, width):
    xs, ys = [], []
    for centre, vals in bins:
        n = len(vals)
        for i, v in enumerate(vals):
            xs.append(centre - width / 2 + (i + 0.5) * width / n)
            ys.append(v)
    return np.array(xs), np.array(ys)

nx, ny = expand(nimbus_bins, bin_width)
sx, sy = expand(smm_bins, bin_width)
nx = np.concatenate([nx, nimbus_extra_years])
ny = np.concatenate([ny, nimbus_extra_vals])
sx = np.concatenate([sx, smm_extra_years])
sy = np.concatenate([sy, smm_extra_vals])

# ---------------- figure ----------------
serif = ["Liberation Serif", "DejaVu Serif"]
sans = ["Liberation Sans", "DejaVu Sans"]

fig = plt.figure(figsize=(11.17, 7.70), dpi=100)
ax = fig.add_axes([117 / 1117, 71 / 770, 999 / 1117, 678 / 770])

ms = 1.8
ax.plot(nx, ny, ls="none", marker="s", ms=ms, mew=0, color="black")
ax.plot(sx, sy, ls="none", marker="s", ms=ms, mew=0, color="black")

ax.set_xlim(78, 94)
ax.set_ylim(1364, 1376)

# x ticks: majors at year boundaries, minors each quarter; labels centred in each year
ax.set_xticks(np.arange(78, 95, 1))
ax.set_xticklabels([])
minor_x = np.arange(78.25, 94, 0.25)
minor_x = minor_x[(minor_x % 1) != 0]
ax.set_xticks(minor_x, minor=True)
ax.set_xticklabels([year_labels[int(v) - 78] if abs(v % 1 - 0.5) < 1e-9 else "" for v in minor_x],
                   minor=True, fontfamily=sans, fontsize=14)

ax.set_yticks(np.arange(1364, 1377, 2))
ax.set_yticklabels([str(v) for v in range(1364, 1377, 2)], fontfamily=serif,
                   fontweight="bold", fontsize=16)
ax.set_yticks(np.arange(1364, 1376.01, 0.2), minor=True)

ax.tick_params(axis="x", which="major", direction="in", length=10, width=1.8,
               top=False, bottom=True)
ax.tick_params(axis="x", which="minor", direction="in", length=5, width=1.5,
               top=False, bottom=True, pad=13)
ax.tick_params(axis="y", which="major", direction="in", length=9, width=1.8,
               right=False, left=True, pad=6)
ax.tick_params(axis="y", which="minor", direction="in", length=5, width=1.5,
               right=False, left=True)

# top and right tick marks
secx = ax.secondary_xaxis("top")
secx.set_xticks(np.arange(78, 95, 1))
secx.set_xticks(minor_x, minor=True)
secx.tick_params(which="major", direction="in", length=9, width=1.8, labeltop=False)
secx.tick_params(which="minor", direction="in", length=4.5, width=1.5, labeltop=False)
secx.spines["top"].set_linewidth(1.8)

secy = ax.secondary_yaxis("right")
secy.set_yticks(np.arange(1364, 1377, 2))
secy.set_yticks(np.arange(1364, 1376.01, 0.2), minor=True)
secy.tick_params(which="major", direction="in", length=4, width=1.8, labelright=False)
secy.tick_params(which="minor", direction="in", length=2, width=1.5, labelright=False)

for side in ["left", "bottom"]:
    ax.spines[side].set_linewidth(2.2)
ax.spines["top"].set_linewidth(1.8)
ax.spines["right"].set_linewidth(1.5)

ax.grid(True, which="major", ls=(0, (1, 2)), lw=0.9, color="black")
ax.set_axisbelow(True)

ax.set_xlabel("Year", fontfamily=serif, fontweight="bold", fontsize=18)
ax.xaxis.set_label_coords(0.5, -0.07)
ax.set_ylabel("Irradiance (W/m$^\\mathbf{2}$)", fontfamily=serif, fontweight="bold", fontsize=18)
ax.yaxis.set_label_coords(-0.073, 0.5)

box = dict(boxstyle="square,pad=0.2", fc="white", ec="black", lw=2)
ax.text(85.67, 1373.63, label_nimbus, ha="center", va="center", fontfamily=serif,
        fontweight="bold", fontsize=18, bbox=box, zorder=5)
ax.text(86.05, 1368.80, label_smm, ha="center", va="center", fontfamily=serif,
        fontweight="bold", fontsize=18, bbox=box, zorder=5)

fig.savefig("out.png", dpi=100)
